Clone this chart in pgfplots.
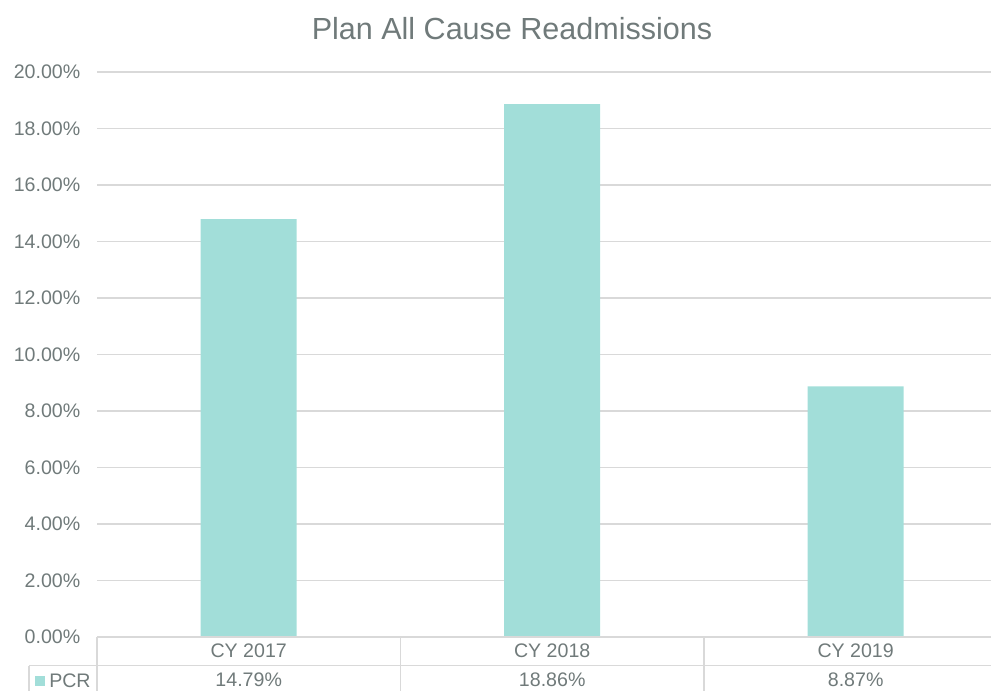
\documentclass[border=0pt]{standalone}
\usepackage{pgfplots}
\pgfplotsset{compat=1.18}
\usepackage{fontspec}
\setmainfont{Liberation Sans}
\definecolor{txt}{RGB}{112,122,122}
\definecolor{barc}{RGB}{162,222,217}
\definecolor{gridc}{RGB}{217,217,217}
\begin{document}
\begin{tikzpicture}
\useasboundingbox (0,0) rectangle (743.25pt,517.5pt);
\begin{axis}[
  at={(72.75pt,39.75pt)}, anchor=south west,
  width=670.5pt, height=423.75pt, scale only axis,
  xmin=-0.5, xmax=2.446, ymin=0, ymax=20,
  axis line style={draw=none},
  ytick={0,2,...,20},
  major tick length=0pt,
  ymajorgrids, grid style={gridc, line width=0.9pt},
  /pgf/number format/assume math mode=true,
  yticklabel={\pgfmathprintnumber[fixed,fixed zerofill,precision=2]{\tick}\%},
  yticklabel style={text=txt, font=\fontsize{14.7}{17}\selectfont, anchor=east, xshift=-9pt},
  xtick={0,1,2},
  xticklabels={{CY 2017\\14.79\%},{CY 2018\\18.86\%},{CY 2019\\8.87\%}},
  xticklabel style={text=txt, align=center, font=\fontsize{14.7}{21.75}\selectfont, anchor=north, yshift=-1.2pt},
  clip=false,
]
\addplot[ybar, bar width=72pt, fill=barc, draw=none] coordinates {(0,14.79) (1,18.86) (2,8.87)};
\end{axis}
\begin{scope}[x=0.75pt,y=0.75pt]
\node[anchor=base,text=txt,font=\fontsize{22.9}{26}\selectfont] at (512,650) {Plan All Cause Readmissions};
\begin{scope}[draw=gridc, line width=1.1pt]
\draw (97,53) -- (991,53);
\draw (29,24.5) -- (991,24.5);
\draw (29,24.5) -- (29,-5);
\draw (97,53) -- (97,-5);
\draw (400.5,53) -- (400.5,-5);
\draw (704,53) -- (704,-5);
\end{scope}
\fill[barc] (35,4) rectangle (45,14);
\node[anchor=base west, inner sep=0pt, text=txt, font=\fontsize{14.7}{17}\selectfont] at (49,2.5) {PCR};
\end{scope}
\end{tikzpicture}
\end{document}
